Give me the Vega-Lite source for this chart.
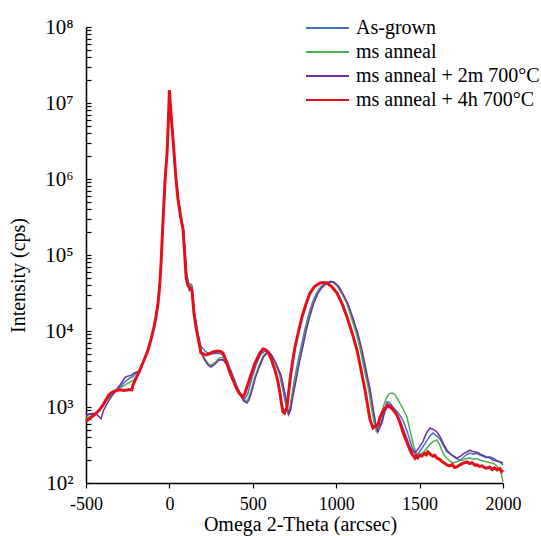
{
  "$schema": "https://vega.github.io/schema/vega-lite/v6.json",
  "width": 417,
  "height": 456,
  "autosize": {"type": "none"},
  "padding": {"left": 86, "top": 27, "right": 38, "bottom": 53},
  "background": "white",
  "config": {
    "font": "Liberation Serif",
    "view": {"stroke": null},
    "axis": {
      "grid": false,
      "domainColor": "#000000",
      "domainWidth": 1.5,
      "tickColor": "#000000",
      "tickWidth": 1.2,
      "labelColor": "#000000",
      "titleColor": "#000000",
      "labelFont": "Liberation Serif",
      "titleFont": "Liberation Serif",
      "titleFontWeight": "normal"
    }
  },
  "encoding": {
    "x": {
      "field": "x",
      "type": "quantitative",
      "scale": {"domain": [-500, 2000], "nice": false, "zero": false},
      "axis": {
        "values": [-500, 0, 500, 1000, 1500, 2000],
        "labelExpr": "datum.value + ''",
        "labelFlush": false,
        "labelOverlap": false,
        "title": "Omega 2-Theta (arcsec)",
        "labelFontSize": 18,
        "tickSize": 5,
        "labelPadding": 7,
        "titleFontSize": 20,
        "titleBaseline": "alphabetic",
        "titleAlign": "center",
        "titleX": 214,
        "titleY": 47
      }
    },
    "y": {
      "field": "y",
      "type": "quantitative",
      "scale": {"type": "log", "domain": [100, 100000000], "nice": false},
      "axis": {
        "values": [100, 200, 300, 400, 500, 600, 700, 800, 900,
                   1000, 2000, 3000, 4000, 5000, 6000, 7000, 8000, 9000,
                   10000, 20000, 30000, 40000, 50000, 60000, 70000, 80000, 90000,
                   100000, 200000, 300000, 400000, 500000, 600000, 700000, 800000, 900000,
                   1000000, 2000000, 3000000, 4000000, 5000000, 6000000, 7000000, 8000000, 9000000,
                   10000000, 20000000, 30000000, 40000000, 50000000, 60000000, 70000000, 80000000, 90000000,
                   100000000],
        "labelExpr": "abs(log(datum.value) / LN10 - round(log(datum.value) / LN10)) < 0.000001 ? '10' + ['⁰','¹','²','³','⁴','⁵','⁶','⁷','⁸'][round(log(datum.value) / LN10)] : ''",
        "labelOverlap": false,
        "labelBound": false,
        "labelFontSize": 21,
        "tickSize": -5,
        "labelPadding": 18,
        "title": "Intensity (cps)",
        "titleFontSize": 20,
        "titleBaseline": "alphabetic",
        "titleAngle": -90,
        "titleAlign": "center",
        "titleX": -62,
        "titleY": 248
      }
    }
  },
  "layer": [
    {
      "data": {"values": [
        {"x": -500, "y": 760}, {"x": -480, "y": 800}, {"x": -460, "y": 820}, {"x": -440, "y": 830}, {"x": -420, "y": 900},
        {"x": -400, "y": 1050}, {"x": -375, "y": 1250}, {"x": -350, "y": 1400}, {"x": -325, "y": 1600}, {"x": -300, "y": 1800},
        {"x": -280, "y": 2000}, {"x": -260, "y": 2200}, {"x": -240, "y": 2400}, {"x": -220, "y": 2500}, {"x": -200, "y": 2800},
        {"x": -182, "y": 2950}, {"x": -155, "y": 4000}, {"x": -128, "y": 5620}, {"x": -110, "y": 7800}, {"x": -92, "y": 11300},
        {"x": -80, "y": 15500}, {"x": -68, "y": 23300}, {"x": -58, "y": 40000}, {"x": -50, "y": 78500}, {"x": -44, "y": 150000},
        {"x": -38, "y": 289000}, {"x": -26, "y": 970000}, {"x": -14, "y": 2200000}, {"x": -6, "y": 6000000}, {"x": 0, "y": 14500000},
        {"x": 8, "y": 8000000}, {"x": 22, "y": 3400000}, {"x": 40, "y": 1000000}, {"x": 55, "y": 530000}, {"x": 68, "y": 330000},
        {"x": 85, "y": 215000}, {"x": 95, "y": 100000}, {"x": 105, "y": 55000}, {"x": 115, "y": 43000}, {"x": 135, "y": 40000},
        {"x": 150, "y": 18000}, {"x": 165, "y": 11000}, {"x": 175, "y": 8500}, {"x": 189, "y": 6300}, {"x": 219, "y": 5300},
        {"x": 250, "y": 5000}, {"x": 290, "y": 5100}, {"x": 320, "y": 4900}, {"x": 350, "y": 3800}, {"x": 375, "y": 2800},
        {"x": 410, "y": 1750}, {"x": 435, "y": 1380}, {"x": 453, "y": 1280}, {"x": 470, "y": 1500}, {"x": 495, "y": 2400},
        {"x": 520, "y": 3600}, {"x": 548, "y": 4900}, {"x": 570, "y": 5400}, {"x": 591, "y": 5400}, {"x": 610, "y": 4900},
        {"x": 635, "y": 3800}, {"x": 660, "y": 2700}, {"x": 680, "y": 1700}, {"x": 697, "y": 1100}, {"x": 711, "y": 850},
        {"x": 722, "y": 950}, {"x": 735, "y": 1450}, {"x": 750, "y": 2300}, {"x": 770, "y": 3900}, {"x": 790, "y": 6200},
        {"x": 810, "y": 10000}, {"x": 830, "y": 15000}, {"x": 855, "y": 23000}, {"x": 880, "y": 31000}, {"x": 905, "y": 37500},
        {"x": 935, "y": 42500}, {"x": 965, "y": 45000}, {"x": 985, "y": 43500}, {"x": 1010, "y": 38500}, {"x": 1035, "y": 31000},
        {"x": 1065, "y": 23000}, {"x": 1095, "y": 15000}, {"x": 1125, "y": 9300}, {"x": 1150, "y": 5600}, {"x": 1175, "y": 3000},
        {"x": 1200, "y": 1650}, {"x": 1215, "y": 1000}, {"x": 1230, "y": 660}, {"x": 1245, "y": 500}, {"x": 1258, "y": 560},
        {"x": 1270, "y": 620}, {"x": 1285, "y": 850}, {"x": 1304, "y": 1165}, {"x": 1320, "y": 1150}, {"x": 1340, "y": 1000},
        {"x": 1370, "y": 850}, {"x": 1400, "y": 675}, {"x": 1425, "y": 480}, {"x": 1454, "y": 298}, {"x": 1470, "y": 260},
        {"x": 1484, "y": 233}, {"x": 1500, "y": 260}, {"x": 1520, "y": 300}, {"x": 1540, "y": 350}, {"x": 1560, "y": 410},
        {"x": 1580, "y": 455}, {"x": 1595, "y": 430}, {"x": 1610, "y": 403}, {"x": 1625, "y": 370}, {"x": 1640, "y": 320},
        {"x": 1664, "y": 256}, {"x": 1680, "y": 245}, {"x": 1700, "y": 225}, {"x": 1720, "y": 210}, {"x": 1742, "y": 201},
        {"x": 1760, "y": 215}, {"x": 1780, "y": 235}, {"x": 1802, "y": 248}, {"x": 1820, "y": 240}, {"x": 1840, "y": 245},
        {"x": 1862, "y": 233}, {"x": 1880, "y": 225}, {"x": 1900, "y": 215}, {"x": 1920, "y": 222}, {"x": 1940, "y": 213},
        {"x": 1960, "y": 200}, {"x": 1980, "y": 190}, {"x": 2000, "y": 173}
      ]},
      "mark": {"type": "line", "strokeWidth": 1.5, "interpolate": "linear"},
      "encoding": {
        "color": {
          "datum": "As-grown",
          "type": "nominal",
          "scale": {
            "domain": ["As-grown", "ms anneal", "ms anneal + 2m 700°C", "ms anneal + 4h 700°C"],
            "range": ["#4472C4", "#4DB04D", "#7030A0", "#E3101A"]
          },
          "legend": {
            "title": null,
            "orient": "none",
            "legendX": 219,
            "legendY": -11,
            "padding": 0,
            "symbolType": "stroke",
            "symbolSize": 1849,
            "symbolStrokeWidth": 2,
            "clipHeight": 24,
            "labelFont": "Liberation Serif",
            "labelFontSize": 20,
            "labelColor": "#000000",
            "labelOffset": 6,
            "labelLimit": 400,
            "rowPadding": 0
          }
        }
      }
    },
    {
      "data": {"values": [
        {"x": -500, "y": 700}, {"x": -480, "y": 740}, {"x": -460, "y": 780}, {"x": -440, "y": 830}, {"x": -420, "y": 900},
        {"x": -400, "y": 1050}, {"x": -380, "y": 1200}, {"x": -360, "y": 1350}, {"x": -340, "y": 1500}, {"x": -320, "y": 1620},
        {"x": -300, "y": 1750}, {"x": -275, "y": 1900}, {"x": -250, "y": 2050}, {"x": -220, "y": 2200}, {"x": -200, "y": 2500},
        {"x": -182, "y": 2890}, {"x": -155, "y": 4000}, {"x": -128, "y": 5620}, {"x": -110, "y": 7800}, {"x": -92, "y": 11300},
        {"x": -80, "y": 15500}, {"x": -68, "y": 23300}, {"x": -58, "y": 40000}, {"x": -50, "y": 78500}, {"x": -44, "y": 150000},
        {"x": -38, "y": 289000}, {"x": -26, "y": 970000}, {"x": -14, "y": 2200000}, {"x": -6, "y": 6000000}, {"x": 0, "y": 14800000},
        {"x": 8, "y": 8000000}, {"x": 22, "y": 3300000}, {"x": 40, "y": 980000}, {"x": 54, "y": 530000}, {"x": 67, "y": 330000},
        {"x": 84, "y": 213000}, {"x": 94, "y": 100000}, {"x": 103, "y": 53000}, {"x": 114, "y": 42000}, {"x": 135, "y": 38000},
        {"x": 149, "y": 17500}, {"x": 163, "y": 11000}, {"x": 173, "y": 8400}, {"x": 189, "y": 5600}, {"x": 210, "y": 4400},
        {"x": 230, "y": 3800}, {"x": 245, "y": 3500}, {"x": 270, "y": 3800}, {"x": 297, "y": 4400}, {"x": 320, "y": 4500},
        {"x": 345, "y": 3700}, {"x": 370, "y": 2900}, {"x": 395, "y": 2100}, {"x": 420, "y": 1550}, {"x": 440, "y": 1280},
        {"x": 458, "y": 1180}, {"x": 470, "y": 1250}, {"x": 485, "y": 1500}, {"x": 510, "y": 2400}, {"x": 535, "y": 3400},
        {"x": 560, "y": 4600}, {"x": 580, "y": 5200}, {"x": 595, "y": 5300}, {"x": 612, "y": 4800}, {"x": 635, "y": 3900},
        {"x": 665, "y": 2700}, {"x": 685, "y": 1700}, {"x": 700, "y": 1100}, {"x": 713, "y": 800}, {"x": 722, "y": 900},
        {"x": 735, "y": 1350}, {"x": 755, "y": 2300}, {"x": 775, "y": 3900}, {"x": 795, "y": 6200}, {"x": 815, "y": 10000},
        {"x": 835, "y": 15000}, {"x": 860, "y": 23000}, {"x": 885, "y": 31000}, {"x": 910, "y": 37500}, {"x": 940, "y": 42500},
        {"x": 965, "y": 44500}, {"x": 985, "y": 43000}, {"x": 1010, "y": 38000}, {"x": 1035, "y": 31000}, {"x": 1065, "y": 23000},
        {"x": 1090, "y": 15000}, {"x": 1120, "y": 9300}, {"x": 1145, "y": 5600}, {"x": 1170, "y": 3000}, {"x": 1195, "y": 1650},
        {"x": 1210, "y": 1000}, {"x": 1225, "y": 660}, {"x": 1240, "y": 480}, {"x": 1252, "y": 560}, {"x": 1265, "y": 750},
        {"x": 1285, "y": 1050}, {"x": 1300, "y": 1300}, {"x": 1315, "y": 1480}, {"x": 1334, "y": 1528}, {"x": 1350, "y": 1480},
        {"x": 1370, "y": 1250}, {"x": 1395, "y": 1000}, {"x": 1424, "y": 738}, {"x": 1440, "y": 520}, {"x": 1460, "y": 336},
        {"x": 1475, "y": 260}, {"x": 1484, "y": 233}, {"x": 1500, "y": 240}, {"x": 1520, "y": 248}, {"x": 1540, "y": 280},
        {"x": 1560, "y": 320}, {"x": 1580, "y": 350}, {"x": 1604, "y": 368}, {"x": 1620, "y": 320}, {"x": 1640, "y": 248},
        {"x": 1660, "y": 215}, {"x": 1680, "y": 195}, {"x": 1700, "y": 183}, {"x": 1720, "y": 190}, {"x": 1740, "y": 198},
        {"x": 1760, "y": 201}, {"x": 1780, "y": 210}, {"x": 1802, "y": 213}, {"x": 1820, "y": 205}, {"x": 1840, "y": 210},
        {"x": 1862, "y": 201}, {"x": 1880, "y": 195}, {"x": 1900, "y": 190}, {"x": 1920, "y": 185}, {"x": 1940, "y": 183},
        {"x": 1960, "y": 170}, {"x": 1982, "y": 148}, {"x": 1992, "y": 125}, {"x": 2000, "y": 103}
      ]},
      "mark": {"type": "line", "strokeWidth": 1.5, "interpolate": "linear"},
      "encoding": {"color": {"datum": "ms anneal", "type": "nominal"}}
    },
    {
      "data": {"values": [
        {"x": -500, "y": 780}, {"x": -480, "y": 810}, {"x": -460, "y": 820}, {"x": -440, "y": 810}, {"x": -425, "y": 760},
        {"x": -410, "y": 700}, {"x": -395, "y": 900}, {"x": -375, "y": 1100}, {"x": -350, "y": 1350}, {"x": -325, "y": 1600},
        {"x": -300, "y": 1900}, {"x": -280, "y": 2200}, {"x": -265, "y": 2450}, {"x": -250, "y": 2550}, {"x": -230, "y": 2600},
        {"x": -210, "y": 2800}, {"x": -182, "y": 2950}, {"x": -155, "y": 4000}, {"x": -128, "y": 5620}, {"x": -110, "y": 7800},
        {"x": -92, "y": 11300}, {"x": -80, "y": 15500}, {"x": -68, "y": 23300}, {"x": -58, "y": 40000}, {"x": -50, "y": 78500},
        {"x": -44, "y": 150000}, {"x": -38, "y": 289000}, {"x": -26, "y": 970000}, {"x": -14, "y": 2200000}, {"x": -6, "y": 6000000},
        {"x": 0, "y": 14600000}, {"x": 8, "y": 8000000}, {"x": 22, "y": 3300000}, {"x": 40, "y": 990000}, {"x": 54, "y": 530000},
        {"x": 67, "y": 330000}, {"x": 84, "y": 213000}, {"x": 94, "y": 100000}, {"x": 103, "y": 53000}, {"x": 112, "y": 40000},
        {"x": 120, "y": 34000}, {"x": 135, "y": 37000}, {"x": 149, "y": 17500}, {"x": 163, "y": 11000}, {"x": 173, "y": 8300},
        {"x": 189, "y": 5300}, {"x": 210, "y": 4200}, {"x": 230, "y": 3600}, {"x": 249, "y": 3360}, {"x": 270, "y": 3600},
        {"x": 297, "y": 4150}, {"x": 320, "y": 4200}, {"x": 340, "y": 3700}, {"x": 365, "y": 3000}, {"x": 390, "y": 2150},
        {"x": 420, "y": 1500}, {"x": 445, "y": 1200}, {"x": 465, "y": 1130}, {"x": 478, "y": 1250}, {"x": 490, "y": 1500},
        {"x": 515, "y": 2400}, {"x": 540, "y": 3400}, {"x": 565, "y": 4600}, {"x": 585, "y": 5100}, {"x": 600, "y": 5200},
        {"x": 617, "y": 4600}, {"x": 640, "y": 3700}, {"x": 670, "y": 2600}, {"x": 690, "y": 1600}, {"x": 705, "y": 1050},
        {"x": 716, "y": 800}, {"x": 726, "y": 900}, {"x": 740, "y": 1350}, {"x": 760, "y": 2300}, {"x": 780, "y": 3900},
        {"x": 800, "y": 6200}, {"x": 820, "y": 10000}, {"x": 840, "y": 15000}, {"x": 865, "y": 23000}, {"x": 890, "y": 31000},
        {"x": 915, "y": 37500}, {"x": 945, "y": 42500}, {"x": 970, "y": 44800}, {"x": 990, "y": 43500}, {"x": 1015, "y": 38500},
        {"x": 1040, "y": 31000}, {"x": 1070, "y": 23000}, {"x": 1100, "y": 15000}, {"x": 1130, "y": 9300}, {"x": 1155, "y": 5600},
        {"x": 1180, "y": 3000}, {"x": 1205, "y": 1650}, {"x": 1220, "y": 1000}, {"x": 1235, "y": 640}, {"x": 1250, "y": 470},
        {"x": 1262, "y": 540}, {"x": 1275, "y": 620}, {"x": 1290, "y": 850}, {"x": 1304, "y": 1000}, {"x": 1320, "y": 980},
        {"x": 1340, "y": 900}, {"x": 1360, "y": 800}, {"x": 1382, "y": 675}, {"x": 1410, "y": 460}, {"x": 1442, "y": 298},
        {"x": 1455, "y": 270}, {"x": 1472, "y": 248}, {"x": 1495, "y": 290}, {"x": 1520, "y": 350}, {"x": 1540, "y": 450},
        {"x": 1562, "y": 530}, {"x": 1580, "y": 510}, {"x": 1604, "y": 469}, {"x": 1625, "y": 400}, {"x": 1645, "y": 320},
        {"x": 1664, "y": 272}, {"x": 1685, "y": 240}, {"x": 1705, "y": 225}, {"x": 1724, "y": 213}, {"x": 1745, "y": 225},
        {"x": 1765, "y": 245}, {"x": 1784, "y": 256}, {"x": 1800, "y": 270}, {"x": 1815, "y": 262}, {"x": 1832, "y": 256},
        {"x": 1850, "y": 250}, {"x": 1865, "y": 240}, {"x": 1880, "y": 233}, {"x": 1900, "y": 220}, {"x": 1920, "y": 215},
        {"x": 1940, "y": 201}, {"x": 1960, "y": 195}, {"x": 1980, "y": 190}, {"x": 2000, "y": 183}
      ]},
      "mark": {"type": "line", "strokeWidth": 1.5, "interpolate": "linear"},
      "encoding": {"color": {"datum": "ms anneal + 2m 700°C", "type": "nominal"}}
    },
    {
      "data": {"values": [
        {"x": -500, "y": 650}, {"x": -485, "y": 690}, {"x": -470, "y": 730}, {"x": -450, "y": 790}, {"x": -422, "y": 900},
        {"x": -400, "y": 1050}, {"x": -380, "y": 1250}, {"x": -365, "y": 1420}, {"x": -350, "y": 1530}, {"x": -330, "y": 1620},
        {"x": -300, "y": 1680}, {"x": -270, "y": 1650}, {"x": -240, "y": 1700}, {"x": -225, "y": 1680}, {"x": -218, "y": 1950},
        {"x": -182, "y": 2890}, {"x": -155, "y": 4000}, {"x": -128, "y": 5620}, {"x": -110, "y": 7800}, {"x": -92, "y": 11300},
        {"x": -80, "y": 15500}, {"x": -68, "y": 23300}, {"x": -58, "y": 40000}, {"x": -50, "y": 78500}, {"x": -44, "y": 150000},
        {"x": -38, "y": 289000}, {"x": -26, "y": 970000}, {"x": -14, "y": 2200000}, {"x": -6, "y": 6000000}, {"x": 0, "y": 14800000},
        {"x": 8, "y": 8000000}, {"x": 22, "y": 3260000}, {"x": 40, "y": 970000}, {"x": 52, "y": 530000}, {"x": 66, "y": 330000},
        {"x": 82, "y": 213000}, {"x": 92, "y": 100000}, {"x": 100, "y": 51400}, {"x": 110, "y": 40000}, {"x": 118, "y": 37900},
        {"x": 135, "y": 34600}, {"x": 147, "y": 17300}, {"x": 160, "y": 11000}, {"x": 171, "y": 8340}, {"x": 189, "y": 5140},
        {"x": 219, "y": 4830}, {"x": 240, "y": 5000}, {"x": 260, "y": 5300}, {"x": 291, "y": 5460}, {"x": 305, "y": 5400},
        {"x": 321, "y": 5140}, {"x": 340, "y": 4100}, {"x": 357, "y": 3070}, {"x": 380, "y": 2300}, {"x": 399, "y": 1830},
        {"x": 420, "y": 1500}, {"x": 441, "y": 1355}, {"x": 452, "y": 1500}, {"x": 465, "y": 1830}, {"x": 490, "y": 2700},
        {"x": 513, "y": 3790}, {"x": 540, "y": 5000}, {"x": 561, "y": 5800}, {"x": 575, "y": 5700}, {"x": 591, "y": 5300},
        {"x": 610, "y": 4300}, {"x": 633, "y": 3070}, {"x": 650, "y": 2200}, {"x": 663, "y": 1530}, {"x": 672, "y": 1100},
        {"x": 681, "y": 860}, {"x": 690, "y": 830}, {"x": 705, "y": 1000}, {"x": 714, "y": 1500}, {"x": 723, "y": 2265},
        {"x": 738, "y": 3900}, {"x": 753, "y": 6150}, {"x": 775, "y": 10000}, {"x": 795, "y": 15300}, {"x": 820, "y": 23000},
        {"x": 843, "y": 31600}, {"x": 870, "y": 38500}, {"x": 903, "y": 42800}, {"x": 925, "y": 43500}, {"x": 945, "y": 42800},
        {"x": 975, "y": 38000}, {"x": 1005, "y": 31600}, {"x": 1035, "y": 23000}, {"x": 1065, "y": 15300}, {"x": 1095, "y": 9500},
        {"x": 1125, "y": 5620}, {"x": 1150, "y": 3000}, {"x": 1173, "y": 1675}, {"x": 1190, "y": 1000}, {"x": 1203, "y": 675},
        {"x": 1221, "y": 530}, {"x": 1235, "y": 560}, {"x": 1251, "y": 580}, {"x": 1263, "y": 738}, {"x": 1285, "y": 920},
        {"x": 1310, "y": 1063}, {"x": 1330, "y": 1000}, {"x": 1350, "y": 870}, {"x": 1364, "y": 785}, {"x": 1385, "y": 600},
        {"x": 1400, "y": 469}, {"x": 1420, "y": 360}, {"x": 1442, "y": 272}, {"x": 1455, "y": 240}, {"x": 1465, "y": 225},
        {"x": 1472, "y": 213}, {"x": 1480, "y": 228}, {"x": 1490, "y": 215}, {"x": 1500, "y": 232}, {"x": 1514, "y": 227},
        {"x": 1530, "y": 245}, {"x": 1540, "y": 235}, {"x": 1550, "y": 256}, {"x": 1565, "y": 238}, {"x": 1580, "y": 225},
        {"x": 1590, "y": 232}, {"x": 1604, "y": 213}, {"x": 1620, "y": 205}, {"x": 1635, "y": 190}, {"x": 1650, "y": 182},
        {"x": 1664, "y": 173}, {"x": 1680, "y": 168}, {"x": 1695, "y": 175}, {"x": 1710, "y": 160}, {"x": 1724, "y": 163},
        {"x": 1740, "y": 172}, {"x": 1755, "y": 180}, {"x": 1770, "y": 185}, {"x": 1784, "y": 189}, {"x": 1800, "y": 180},
        {"x": 1815, "y": 185}, {"x": 1830, "y": 172}, {"x": 1844, "y": 173}, {"x": 1860, "y": 165}, {"x": 1875, "y": 168},
        {"x": 1890, "y": 158}, {"x": 1904, "y": 157}, {"x": 1920, "y": 162}, {"x": 1935, "y": 150}, {"x": 1950, "y": 158},
        {"x": 1965, "y": 148}, {"x": 1982, "y": 155}, {"x": 1992, "y": 142}, {"x": 2000, "y": 148}
      ]},
      "mark": {"type": "line", "strokeWidth": 3, "interpolate": "linear"},
      "encoding": {"color": {"datum": "ms anneal + 4h 700°C", "type": "nominal"}}
    }
  ]
}
